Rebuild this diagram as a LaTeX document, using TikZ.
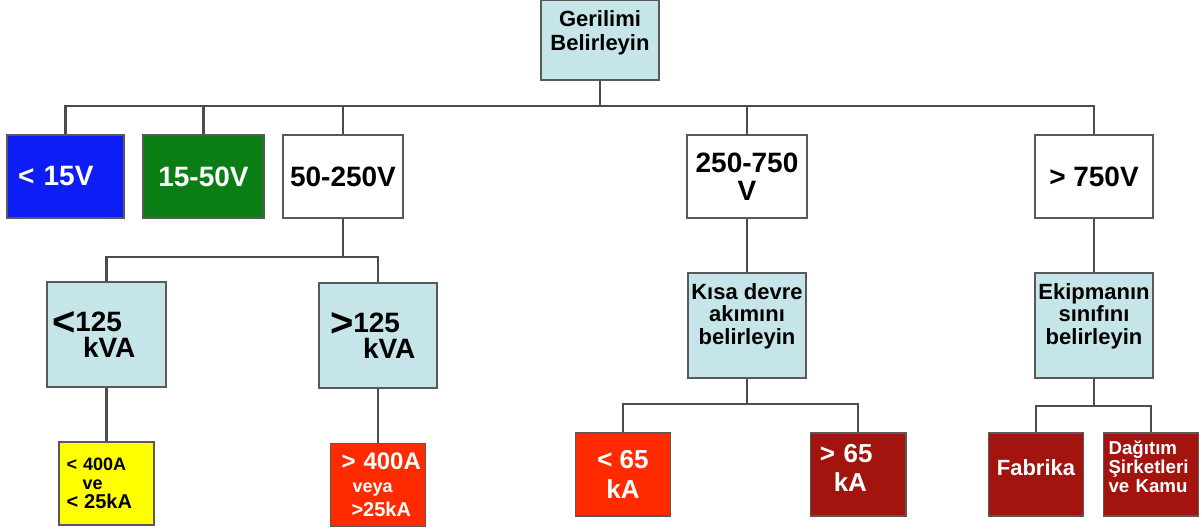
\documentclass[tikz,border=0pt]{standalone}
\usepackage{fontspec}
\setmainfont{Liberation Sans}
\usetikzlibrary{calc}

\definecolor{acikmavi}{RGB}{197,229,232}
\definecolor{mavi}{RGB}{12,30,245}
\definecolor{yesil}{RGB}{10,125,20}
\definecolor{sari}{RGB}{255,255,0}
\definecolor{kirmizi}{RGB}{255,42,0}
\definecolor{bordo}{RGB}{163,20,15}
\newcommand{\fsz}[2]{\fontsize{#1}{#2}\selectfont}

\begin{document}
\begin{tikzpicture}[x=1pt,y=-1pt]

  \tikzstyle{box}=[draw=black!65,line width=1.5pt,inner sep=2pt,align=center]
  \tikzstyle{level}=[box,minimum width=120pt,minimum height=83pt,font=\bfseries\fsz{28}{28}]
  \tikzstyle{query}=[box,fill=acikmavi,minimum width=118pt,minimum height=105pt]
  \tikzstyle{leaf}=[box,text=white,minimum width=95pt,minimum height=83pt]
  \tikzstyle{wire}=[line width=2.5pt,draw=black!70]

  \useasboundingbox (0,0) rectangle (1202,529);

  % ====================
  % Parameters
  % ====================
  \def\busa{106}  % Height of the main bus
  \def\busb{257}  % Bus below 50-250V
  \def\busc{404}  % Bus below the short circuit box
  \def\busd{406}  % Bus below the equipment box
  % ====================

  % ====================
  % Boxes
  % ====================
  \node (root) [box,fill=acikmavi,minimum width=118pt,minimum height=80pt,
    font=\bfseries\fsz{22}{24},text depth=19pt] at (600,40) {Gerilimi\\Belirleyin};

  % Voltage levels
  \node (v1) [level,fill=mavi,text=white,minimum width=117pt,text width=95pt,
    inner xsep=11pt,align=left] at (65.5,176.5) {< 15V};
  \node (v2) [level,fill=yesil,text=white,minimum width=121pt] at (203.5,176.5) {15-50V};
  \node (v3) [level,fill=white] at (343,176.5) {50-250V};
  \node (v4) [level,fill=white] at (747,176.5) {250-750\\V};
  \node (v5) [level,fill=white,minimum width=118pt] at (1094,176.5) {> 750V};

  % Power
  \node (k1) [query,minimum width=119pt,text width=109pt,inner xsep=5pt,align=left,
    font=\bfseries\fsz{28}{23}] at (106.5,334.5)
    {\raisebox{-4pt}{\fsz{40}{23}<}125\\\hspace*{31pt}kVA};
  \node (k2) [query,text width=96pt,inner xsep=11pt,align=left,
    font=\bfseries\fsz{28}{23}] at (378,335.5)
    {\raisebox{-4pt}{\fsz{40}{23}>}125\\\hspace*{33pt}kVA};

  % Short circuit current and equipment class
  \node (ks) [query,font=\bfseries\fsz{22}{22.5},text depth=23.6pt] at (747,325.5)
    {Kısa devre\\akımını\\belirleyin};
  \node (ek) [query,font=\bfseries\fsz{22}{22.5},text depth=23.6pt] at (1094,325.5)
    {Ekipmanın\\sınıfını\\belirleyin};

  % Leaves
  \node (a1) [leaf,fill=sari,text=black,text width=80pt,inner xsep=7.5pt,align=left,
    font=\bfseries\fsz{18}{19}] at (106.5,483.5)
    {<~400A\\\hspace*{16pt}ve\\\fsz{20}{18}<~25kA};
  \node (a2) [leaf,fill=kirmizi,text width=85pt,inner xsep=5pt,align=left,
    font=\bfseries\fsz{24}{24}] at (378,485)
    {\hspace*{6pt}>~400A\\\fsz{18}{23}\hspace*{17pt}veya\\\fsz{20}{19}\hspace*{16pt}>25kA};
  \node (c1) [leaf,fill=kirmizi,font=\bfseries\fsz{26}{30}] at (623,474.5) {< 65\\kA};
  \node (c2) [leaf,fill=bordo,text width=76.5pt,inner xsep=9.5pt,align=left,
    font=\bfseries\fsz{26}{29},text depth=42pt] at (858,474.5) {>~65\\\hspace*{14pt}kA};
  \node (f1) [leaf,fill=bordo,font=\bfseries\fsz{22}{22},text depth=13pt] at (1036,474.5) {Fabrika};
  \node (f2) [leaf,fill=bordo,text width=85pt,inner xsep=5pt,align=left,
    font=\bfseries\fsz{18.7}{19},text depth=53pt] at (1151,474.5)
    {Dağıtım\\Şirketleri\\ve~Kamu};

  % ====================
  % Connections
  % ====================
  \coordinate (bus1) at (0,\busa);
  \coordinate (bus2) at (0,\busb);
  \coordinate (bus3) at (0,\busc);
  \coordinate (bus4) at (0,\busd);

  \draw[wire] (root.south) -- (root.south |- bus1);
  \draw[wire] (v1.north) |- (v5.north |- bus1) -- (v5.north);
  \foreach \v in {v2,v3,v4}
    \draw[wire] (\v.north) -- (\v.north |- bus1);

  \draw[wire] (v3.south) -- (v3.south |- bus2);
  \draw[wire] (k1.north) |- (k2.north |- bus2) -- (k2.north);
  \draw[wire] (k1.south) -- (a1.north);
  \draw[wire] (k2.south) -- (a2.north);

  \draw[wire] (v4.south) -- (ks.north);
  \draw[wire] (ks.south) -- (ks.south |- bus3);
  \draw[wire] (c1.north) |- (c2.north |- bus3) -- (c2.north);

  \draw[wire] (v5.south) -- (ek.north);
  \draw[wire] (ek.south) -- (ek.south |- bus4);
  \draw[wire] (f1.north) |- (f2.north |- bus4) -- (f2.north);
\end{tikzpicture}
\end{document}
